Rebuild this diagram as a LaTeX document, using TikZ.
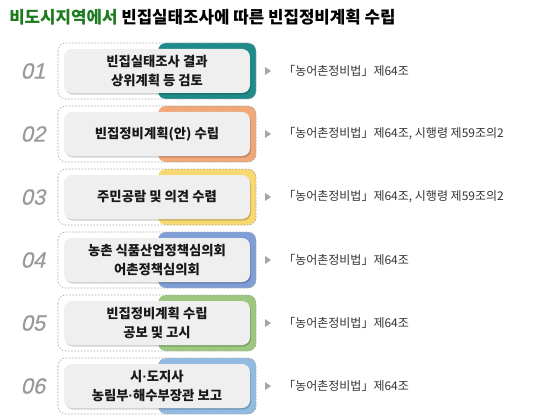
\documentclass[tikz,border=0pt]{standalone}
\usepackage{fontspec}
\setmainfont{Noto Sans CJK KR}
\newfontfamily\numfont{Liberation Sans}[FakeSlant=0.22, FakeBold=0.6]
\newfontfamily\dotfont{Liberation Sans}
\newcommand\mdot{{\dotfont ·}}
\usetikzlibrary{shadows}
\definecolor{titlegreen}{HTML}{1E7A1E}
\definecolor{cA}{HTML}{1F8B8B}
\definecolor{cB}{HTML}{F0A87A}
\definecolor{cC}{HTML}{F8D870}
\definecolor{cD}{HTML}{7F9ED6}
\definecolor{cE}{HTML}{9CC77E}
\definecolor{cF}{HTML}{92BBE2}
\definecolor{innerfill}{HTML}{EFEFEF}
\definecolor{numgray}{HTML}{9A9A9A}
\definecolor{reftext}{HTML}{333333}
\tikzset{
  outerbox/.style={draw=black!35, dash pattern=on 1.2pt off 1.2pt, line width=0.5pt, rounded corners=6pt},
  colorbox/.style={rounded corners=6pt},
  innerbox/.style={fill=innerfill, rounded corners=6pt, minimum width=139.5pt, minimum height=33pt,
    drop shadow={shadow xshift=0.8pt, shadow yshift=-1.2pt, fill=black, opacity=0.18},
    font=\bfseries\fontsize{10pt}{14.2pt}\selectfont, align=center, text=black!90, inner sep=0pt},
  numlabel/.style={font=\numfont\fontsize{16.5pt}{16.5pt}\selectfont, text=numgray},
  reflabel/.style={anchor=west, font=\fontsize{9pt}{11pt}\selectfont, text=reftext, inner sep=0pt},
  tri/.style={fill=black!35, draw=none}
}
\begin{document}
\begin{tikzpicture}[x=0.75pt, y=-0.75pt]
\useasboundingbox (0,0) rectangle (541,417);
\node[anchor=west, inner sep=0pt, font=\bfseries\fontsize{12.6pt}{14pt}\selectfont] (title) at (9,17)
  {\textcolor{titlegreen}{비도시지역에서} 빈집실태조사에 따른 빈집정비계획 수립};
\foreach \i/\cy/\col/\num/\txt/\reftxt in {
  1/71/cA/01/{빈집실태조사 결과\\상위계획 등 검토}/{「농어촌정비법」제64조},
  2/134/cB/02/{빈집정비계획(안) 수립}/{「농어촌정비법」제64조, 시행령 제59조의2},
  3/197/cC/03/{주민공람 및 의견 수렴}/{「농어촌정비법」제64조, 시행령 제59조의2},
  4/260/cD/04/{농촌 식품산업정책심의회\\어촌정책심의회}/{「농어촌정비법」제64조},
  5/323/cE/05/{빈집정비계획 수립\\공보 및 고시}/{「농어촌정비법」제64조},
  6/386/cF/06/{시\mdot 도지사\\농림부\mdot 해수부장관 보고}/{「농어촌정비법」제64조}} {
  \fill[colorbox, \col] (158,\cy-28) rectangle (256,\cy+28);
  \draw[outerbox] (58,\cy-28) rectangle (256,\cy+28);
  \node[innerbox] (box\i) at (157,\cy) {\txt};
  \node[numlabel] (num\i) at (33,\cy) {\num};
  \fill[tri] (265,\cy-4) -- (271,\cy) -- (265,\cy+4) -- cycle;
  \node[reflabel] (ref\i) at (283,\cy) {\reftxt};
}
\end{tikzpicture}
\end{document}
